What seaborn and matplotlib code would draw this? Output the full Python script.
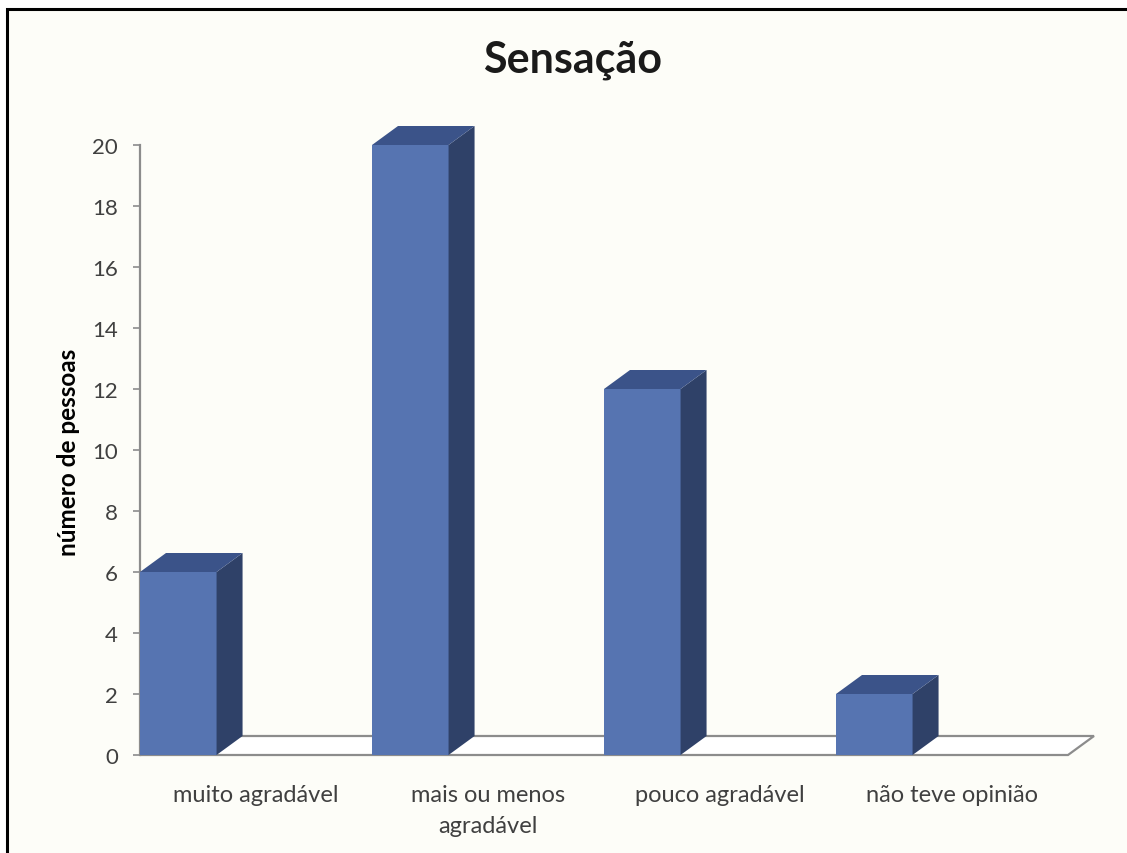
import numpy as np
import pandas as pd
import matplotlib
matplotlib.use("Agg")
import matplotlib.pyplot as plt
from matplotlib.patches import Polygon, Rectangle
import seaborn as sns

categories = ["muito agradável", "mais ou menos\nagradável", "pouco agradável", "não teve opinião"]
values = [6, 20, 12, 2]
yticks = list(range(0, 21, 2))
title = "Sensação"
ylabel = "número de pessoas"

front_color = "#5674B1"
side_color = "#2F4168"
top_color = "#3B5389"
bg_color = "#FDFDF8"

sns.set_theme(style="white")
plt.rcParams["font.family"] = ["Lato", "DejaVu Sans"]

fig = plt.figure(figsize=(11.27, 8.54), dpi=100)
fig.patch.set_facecolor("white")

# chart area with a black frame on top and left
W, H = 1127, 854
frame = Rectangle((7 / W, -0.01), 1.1, (854 - 10) / H + 0.01, transform=fig.transFigure,
                  facecolor=bg_color, edgecolor="black", linewidth=2.2, zorder=-10)
fig.patches.append(frame)

px_per_unit_y = 30.5
ax_bottom = (H - 756) / H
ax_height = 21 * px_per_unit_y / H
slot_px = 232.0
bar_w = 0.33
x0 = -bar_w / 2
xmax = x0 + 4 + 0.16
ax_left = 140 / W
ax_width_px = (xmax - x0) * slot_px
ax = fig.add_axes([ax_left, ax_bottom, ax_width_px / W, ax_height])
ax.set_facecolor("none")

df = pd.DataFrame({"cat": categories, "n": values})
sns.barplot(data=df, x="cat", y="n", width=bar_w, color=front_color, saturation=1,
            edgecolor="none", ax=ax, zorder=3)

ax.set_xlim(x0, xmax)
ax.set_ylim(0, 21)

# depth offsets of the 3D effect (data units)
dx = 26 / slot_px
dy = 19 / px_per_unit_y

# floor
floor = Polygon([(x0, 0), (x0 + 4, 0), (x0 + 4 + dx, dy), (x0 + dx, dy)], closed=True,
                facecolor="white", edgecolor="#8C8C8C", linewidth=1.6, zorder=1, clip_on=False)
ax.add_patch(floor)

# side and top faces of each bar
for i, v in enumerate(values):
    l = i - bar_w / 2
    r = i + bar_w / 2
    side = Polygon([(r, 0), (r + dx, dy), (r + dx, v + dy), (r, v)], closed=True,
                   facecolor=side_color, edgecolor="none", zorder=3, clip_on=False)
    top = Polygon([(l, v), (r, v), (r + dx, v + dy), (l + dx, v + dy)], closed=True,
                  facecolor=top_color, edgecolor="none", zorder=3, clip_on=False)
    ax.add_patch(side)
    ax.add_patch(top)

for s in ["top", "right", "bottom"]:
    ax.spines[s].set_visible(False)
ax.spines["left"].set_color("#8C8C8C")
ax.spines["left"].set_linewidth(1.6)
ax.spines["left"].set_bounds(0, 20)

ax.set_yticks(yticks)
ax.tick_params(axis="y", which="both", left=True, length=5, width=1.2, color="#8C8C8C",
               labelsize=16, labelcolor="#404040", pad=11)
ax.set_xticks(np.arange(len(categories)) - bar_w / 2 + 0.5)
ax.set_xticklabels(categories, fontsize=17, color="#404040", linespacing=1.55)
ax.tick_params(axis="x", length=0, pad=21)

ax.set_xlabel("")
ax.set_ylabel(ylabel, fontsize=17.5, fontweight="bold", color="black")
ax.yaxis.set_label_coords((80 - 140) / ax_width_px, (756 - 452) / (21 * px_per_unit_y))

fig.text(573 / W, 1 - 60 / H, title, ha="center", va="center", fontsize=31,
         fontweight="bold", color="#1A1A1A")

fig.savefig("out.png", dpi=100, facecolor=fig.get_facecolor())
